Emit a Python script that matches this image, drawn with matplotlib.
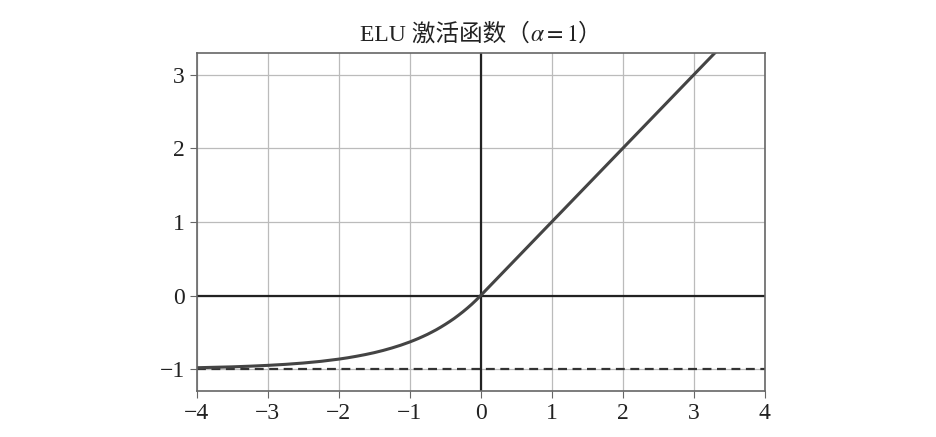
import numpy as np
import matplotlib.pyplot as plt
from matplotlib.offsetbox import TextArea, HPacker, AnchoredOffsetbox

plt.rcParams['font.family'] = ['Liberation Serif', 'Noto Sans CJK SC', 'DejaVu Sans']
plt.rcParams['mathtext.fontset'] = 'stix'
plt.rcParams['axes.unicode_minus'] = True

# ELU 曲线上读取的点 (alpha = 1)
z = [-4.0, -3.75, -3.5, -3.25, -3.0, -2.75, -2.5, -2.25, -2.0, -1.875, -1.75, -1.625,
     -1.5, -1.375, -1.25, -1.125, -1.0, -0.9375, -0.875, -0.8125, -0.75, -0.6875,
     -0.625, -0.5625, -0.5, -0.4375, -0.375, -0.3125, -0.25, -0.1875, -0.125,
     -0.0625, 0.0, 3.3]
elu = [-0.982, -0.976, -0.970, -0.961, -0.950, -0.936, -0.918, -0.895, -0.865, -0.847,
       -0.826, -0.803, -0.777, -0.747, -0.713, -0.675, -0.632, -0.608, -0.583, -0.556,
       -0.528, -0.497, -0.465, -0.430, -0.393, -0.354, -0.313, -0.268, -0.221, -0.171,
       -0.118, -0.061, 0.0, 3.3]
xticks = [-4, -3, -2, -1, 0, 1, 2, 3, 4]
yticks = [-1, 0, 1, 2, 3]

fig = plt.figure(figsize=(9.37, 4.37), dpi=100)
ax = fig.add_axes([0.21, 0.105, 0.606, 0.774])

ax.plot([-4, 4], [0, 0], color='#222222', lw=1.6)
ax.plot([-4, 4], [-1, -1], color='#333333', lw=1.6, ls='--', dashes=(4, 2.5))
ax.plot([0, 0], [-1.3, 3.3], color='#222222', lw=1.6)
ax.plot(z, elu, color='#444444', lw=2.2)

ax.set_xlim(-4, 4)
ax.set_ylim(-1.3, 3.3)
ax.set_xticks(xticks)
ax.set_yticks(yticks)
ax.grid(True, color='#bbbbbb', lw=0.9)
ax.set_axisbelow(True)
for s in ax.spines.values():
    s.set_color('#666666')
    s.set_linewidth(1.2)
ax.tick_params(labelsize=17, colors='#222222', length=5, color='#666666')

# 标题：中文和数学公式分开写，避免字体缺字
tp = dict(fontsize=17, color='#222222')
parts = [TextArea('ELU 激活函数（', textprops=tp),
         TextArea('$\\alpha=1$', textprops=tp),
         TextArea('）', textprops=tp)]
box = HPacker(children=parts, align='baseline', pad=0, sep=0)
title = AnchoredOffsetbox(loc='lower center', child=box, pad=0, frameon=False,
                          bbox_to_anchor=(0.5, 1.02), bbox_transform=ax.transAxes,
                          borderpad=0)
ax.add_artist(title)

plt.savefig('out.png', dpi=100)
